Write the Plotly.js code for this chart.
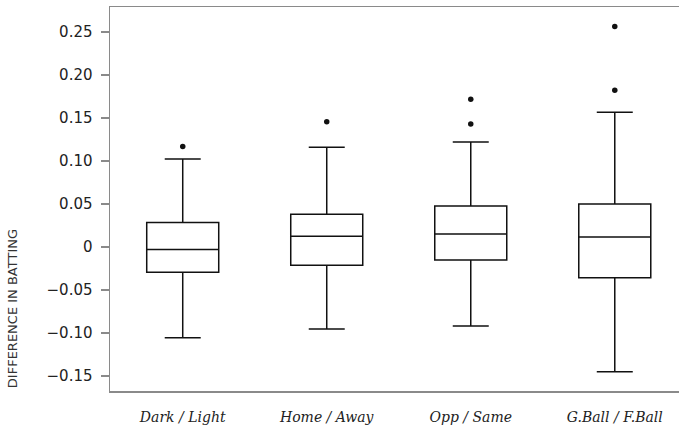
<!DOCTYPE html>
<html>
<head>
<meta charset="utf-8">
<script src="https://cdn.plot.ly/plotly-3.0.1.min.js"></script>
<style>html,body{margin:0;padding:0;background:#fff;}#chart{width:679px;height:429px;}</style>
</head>
<body>
<div id="chart"></div>
<script>
var categories = ["Dark / Light", "Home / Away", "Opp / Same", "G.Ball / F.Ball"];
var lowerWhisker = [-0.1054, -0.0953, -0.0919, -0.1449];
var q1Values = [-0.0294, -0.0213, -0.0151, -0.0356];
var medianValues = [-0.0030, 0.0124, 0.0151, 0.0116];
var q3Values = [0.0284, 0.0380, 0.0477, 0.0500];
var upperWhisker = [0.1023, 0.1159, 0.1221, 0.1566];
var outlierCategory = ["Dark / Light", "Home / Away", "Opp / Same", "Opp / Same", "G.Ball / F.Ball", "G.Ball / F.Ball"];
var outlierValues = [0.1170, 0.1458, 0.1430, 0.1717, 0.1822, 0.2563];
var yTickVals = [-0.15, -0.10, -0.05, 0, 0.05, 0.10, 0.15, 0.20, 0.25];
var yTickText = ["\u22120.15", "\u22120.10", "\u22120.05", "0", "0.05", "0.10", "0.15", "0.20", "0.25"];
var yAxisLabel = "DIFFERENCE IN BATTING";

var traces = [
  {
    type: "box",
    x: categories,
    q1: q1Values,
    median: medianValues,
    q3: q3Values,
    lowerfence: lowerWhisker,
    upperfence: upperWhisker,
    boxpoints: false,
    width: 0.5,
    whiskerwidth: 0.5,
    fillcolor: "rgba(255,255,255,0)",
    line: {color: "#111", width: 1.5},
    hoverinfo: "skip",
    showlegend: false
  },
  {
    type: "scatter",
    mode: "markers",
    x: outlierCategory,
    y: outlierValues,
    marker: {color: "#111", size: 5.5},
    hoverinfo: "skip",
    showlegend: false
  }
];

var layout = {
  width: 679,
  height: 429,
  margin: {l: 110, r: 0, t: 7, b: 38, pad: 0},
  paper_bgcolor: "#fff",
  plot_bgcolor: "#fff",
  showlegend: false,
  xaxis: {
    type: "category",
    categoryorder: "array",
    categoryarray: categories,
    range: [-0.505, 3.446],
    showline: true,
    mirror: true,
    linecolor: "#8a8a8a",
    linewidth: 1.5,
    showgrid: false,
    zeroline: false,
    ticks: "",
    ticklabelstandoff: 13,
    tickfont: {family: "DejaVu Serif", size: 14, color: "#222", style: "italic"},
    fixedrange: true
  },
  yaxis: {
    range: [-0.1674, 0.2791],
    tickvals: yTickVals,
    ticktext: yTickText,
    showline: true,
    linecolor: "#8a8a8a",
    linewidth: 1.5,
    ticks: "outside",
    ticklen: 8,
    tickwidth: 1.5,
    tickcolor: "#8a8a8a",
    ticklabelstandoff: 5,
    showgrid: false,
    zeroline: false,
    tickfont: {family: "DejaVu Sans", size: 15, color: "#222"},
    fixedrange: true
  },
  annotations: [
    {
      text: yAxisLabel,
      xref: "paper", yref: "paper",
      x: -0.172, y: 0.2135,
      xanchor: "center", yanchor: "middle",
      textangle: -90,
      showarrow: false,
      font: {family: "DejaVu Sans", size: 13, color: "#333"}
    }
  ]
};

Plotly.newPlot("chart", traces, layout, {displayModeBar: false, staticPlot: true});
</script>
</body>
</html>
